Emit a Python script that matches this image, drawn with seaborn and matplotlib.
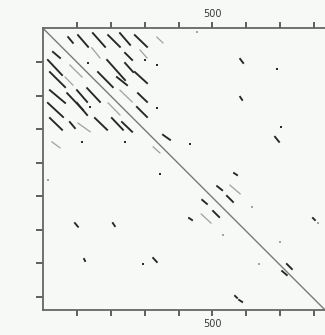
import numpy as np
import pandas as pd
import matplotlib
matplotlib.use("Agg")
import matplotlib.pyplot as plt
from matplotlib.ticker import FuncFormatter
import seaborn as sns

# sequence length (both axes)
seq_len_x = 833
seq_len_y = 839

# repeat segments found by the dot plot (start x, start y, end x, end y, tone)
seg_x0 = [74, 103, 147, 192, 227, 271, 336,
          29, 144, 242, 286,
          14, 79, 189, 242,
          20, 65, 162, 218, 271,
          20, 71, 100, 130, 227, 280,
          14, 100, 192, 277,
          20, 79, 103, 153, 203, 233,
          26, 325,
          582, 582, 685, 354,
          94, 206, 121, 325,
          564, 514, 552, 543, 470, 502, 467, 431, 720, 706, 797, 567, 579]
seg_y0 = [26, 20, 14, 20, 14, 20, 26,
          70, 58, 73, 64,
          94, 109, 94, 103,
          130, 145, 130, 145, 130,
          184, 193, 184, 178, 184, 193,
          222, 222, 222, 234,
          267, 279, 282, 267, 267, 279,
          338, 353,
          91, 204, 323, 317,
          580, 580, 687, 684,
          431, 470, 467, 499, 511, 544, 553, 565, 702, 723, 565, 797, 809]
seg_x1 = [88, 133, 183, 227, 257, 307, 354,
          50, 168, 263, 307,
          56, 115, 242, 266,
          65, 88, 206, 248, 307,
          65, 118, 130, 168, 263, 307,
          59, 130, 227, 307,
          56, 94, 139, 189, 236, 263,
          50, 345,
          591, 588, 697, 375,
          103, 212, 124, 336,
          573, 529, 582, 561, 484, 520, 496, 440, 735, 720, 803, 573, 588]
seg_y1 = [43, 55, 55, 55, 49, 55, 43,
          88, 88, 94, 88,
          139, 145, 154, 130,
          175, 169, 175, 169, 163,
          222, 243, 219, 219, 219, 219,
          264, 258, 258, 264,
          302, 297, 308, 302, 302, 308,
          356, 371,
          103, 213, 338, 332,
          591, 589, 693, 696,
          437, 482, 493, 517, 523, 562, 580, 571, 717, 735, 571, 803, 815]
seg_tone = ["dark", "dark", "dark", "dark", "dark", "dark", "light",
            "dark", "light", "dark", "light",
            "dark", "light", "dark", "dark",
            "dark", "light", "dark", "dark", "dark",
            "dark", "dark", "dark", "dark", "light", "dark",
            "dark", "dark", "light", "dark",
            "dark", "dark", "light", "dark", "dark", "dark",
            "light", "light",
            "dark", "dark", "dark", "dark",
            "dark", "dark", "dark", "dark",
            "dark", "dark", "light", "dark", "dark", "dark", "light", "dark", "dark", "dark", "dark", "dark", "dark"]

# isolated matches
dot_x = [301, 336, 133, 139, 336, 115, 242, 691, 703, 434, 455, 14, 295, 345, 617, 532, 700, 638, 812]
dot_y = [94, 109, 103, 234, 237, 338, 338, 121, 294, 344, 11, 452, 702, 434, 532, 615, 636, 702, 580]
dot_tone = ["dark", "dark", "dark", "dark", "dark", "dark", "dark", "dark", "dark", "dark", "light",
            "light", "dark", "dark", "light", "light", "light", "light", "light"]

tick_vals = [100, 200, 300, 400, 500, 600, 700, 800]
labelled_tick = 500

rows = []
for i in range(len(seg_x0)):
    rows.append({"seg": i, "x": seg_x0[i], "y": seg_y0[i], "tone": seg_tone[i]})
    rows.append({"seg": i, "x": seg_x1[i], "y": seg_y1[i], "tone": seg_tone[i]})
segs = pd.DataFrame(rows)
dots = pd.DataFrame({"x": dot_x, "y": dot_y, "tone": dot_tone})

bg = "#f6f9f6"
fig = plt.figure(figsize=(3.25, 3.35), dpi=100, facecolor=bg)
ax = fig.add_axes([43.1 / 325, 25 / 335, 282 / 325, 281.6 / 335])
ax.set_facecolor(bg)

# main diagonal (self match)
ax.plot([0, seq_len_x], [0, seq_len_y], color="#7a7a7a", lw=1.0, zorder=1)

sns.lineplot(data=segs[segs.tone == "light"], x="x", y="y", units="seg", estimator=None,
             color="#a0a0a0", lw=0.9, ax=ax, legend=False, zorder=2)
sns.lineplot(data=segs[segs.tone == "dark"], x="x", y="y", units="seg", estimator=None,
             color="#262626", lw=1.35, ax=ax, legend=False, zorder=3)
sns.scatterplot(data=dots[dots.tone == "dark"], x="x", y="y", color="#2b2b2b", marker="s",
                s=3, linewidth=0, ax=ax, legend=False, zorder=3)
sns.scatterplot(data=dots[dots.tone == "light"], x="x", y="y", color="#a5a5a5", marker="s",
                s=2, linewidth=0, ax=ax, legend=False, zorder=3)

ax.set_xlim(0, seq_len_x)
ax.set_ylim(seq_len_y, 0)
ax.set_xlabel("")
ax.set_ylabel("")

ax.set_xticks(tick_vals)
ax.set_yticks(tick_vals)
ax.xaxis.set_major_formatter(FuncFormatter(lambda v, p: str(int(v)) if int(v) == labelled_tick else ""))
ax.yaxis.set_major_formatter(FuncFormatter(lambda v, p: ""))
ax.tick_params(axis="x", top=True, bottom=True, labeltop=True, labelbottom=True,
               direction="out", length=4.3, width=1.2, color="#444444",
               labelsize=7, labelcolor="#3a3a3a", pad=2.5)
ax.tick_params(axis="y", left=True, right=False, direction="out", length=5,
               width=1.2, color="#444444")

for side in ["top", "left", "bottom"]:
    ax.spines[side].set_color("#666666")
    ax.spines[side].set_linewidth(1.3)
ax.spines["right"].set_visible(False)

fig.savefig("out.png", dpi=100, facecolor=bg)
